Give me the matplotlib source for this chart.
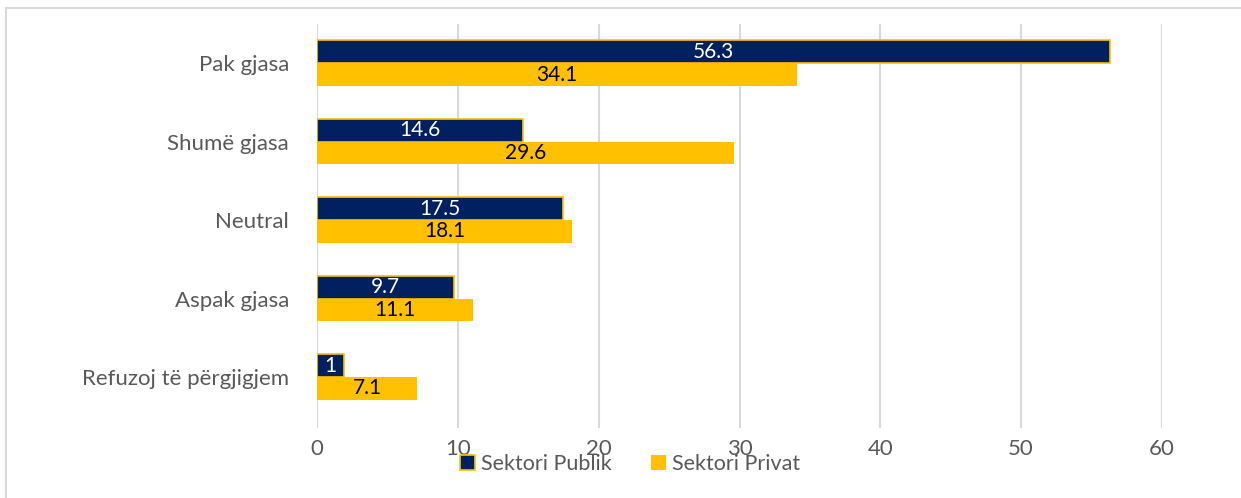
import numpy as np
import matplotlib.pyplot as plt
from matplotlib.patches import Rectangle

categories = ['Pak gjasa', 'Shumë gjasa', 'Neutral', 'Aspak gjasa', 'Refuzoj të përgjigjem']
publik = [56.3, 14.6, 17.5, 9.7, 1.9]
privat = [34.1, 29.6, 18.1, 11.1, 7.1]
publik_labels = ['56.3', '14.6', '17.5', '9.7', '1']
privat_labels = ['34.1', '29.6', '18.1', '11.1', '7.1']
ticks = [0, 10, 20, 30, 40, 50, 60]

navy = '#002060'
gold = '#FFC000'
grey = '#595959'

plt.rcParams['font.family'] = ['Lato', 'DejaVu Sans']

fig = plt.figure(figsize=(12.41, 4.98), dpi=100)
fig.patches.append(Rectangle((6 / 1241, -0.5), 2, 1.5 - 8 / 498, transform=fig.transFigure,
                             fill=False, edgecolor='#d9d9d9', linewidth=1.5))
ax = fig.add_axes([317 / 1241, 1 - 428 / 498, (1162 - 317) / 1241, (428 - 24) / 498])

y = np.arange(len(categories))
h = 0.29
b1 = ax.barh(y - h / 2, publik, height=h, color=navy, edgecolor=gold, linewidth=1.2,
             label='Sektori Publik', zorder=3)
b2 = ax.barh(y + h / 2, privat, height=h, color=gold, edgecolor=gold, linewidth=0,
             label='Sektori Privat', zorder=3)

for bar, txt in zip(b1, publik_labels):
    ax.text(bar.get_x() + bar.get_width() / 2, bar.get_y() + bar.get_height() / 2, txt,
            ha='center', va='center', color='white', fontsize=15, zorder=4)
for bar, txt in zip(b2, privat_labels):
    ax.text(bar.get_x() + bar.get_width() / 2, bar.get_y() + bar.get_height() / 2, txt,
            ha='center', va='center', color='black', fontsize=15, zorder=4)

ax.set_xlim(0, 60)
ax.set_ylim(4.65, -0.5)
ax.set_xticks(ticks)
ax.set_yticks(y)
ax.set_yticklabels(categories)
ax.tick_params(axis='x', length=0, labelsize=16, colors=grey, pad=8)
ax.tick_params(axis='y', length=0, labelsize=16, colors=grey, pad=20)
ax.grid(axis='x', color='#d9d9d9', linewidth=1.5, zorder=0)
for s in ax.spines.values():
    s.set_visible(False)

fig.legend(handles=[b1, b2], loc='center', bbox_to_anchor=(630 / 1241, 1 - 464 / 498),
           ncol=2, frameon=False, fontsize=15.5, labelcolor=grey, handlelength=0.7,
           handleheight=0.7, handletextpad=0.3, columnspacing=1.8)

fig.savefig('out.png', dpi=100)
